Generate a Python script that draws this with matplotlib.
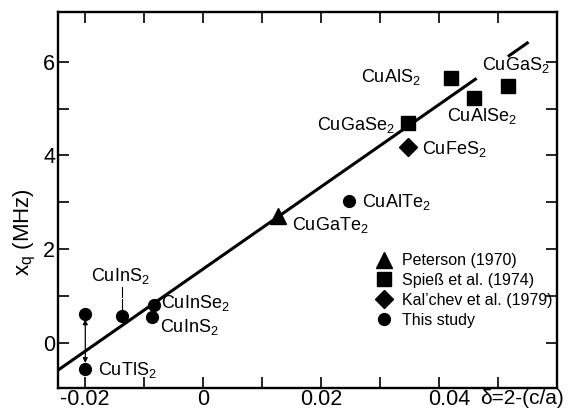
import matplotlib
matplotlib.use("Agg")
import matplotlib.pyplot as plt
import matplotlib.transforms as mtransforms
import numpy as np

# quadrupole coupling vs tetragonal distortion of Cu chalcopyrites
peterson_x = [0.0127]
peterson_y = [2.71]
spiess_x = [0.0347, 0.0420, 0.0460, 0.0517]
spiess_y = [4.70, 5.66, 5.22, 5.48]
kalchev_x = [0.0348]
kalchev_y = [4.17]
study_x = [-0.0199, -0.0199, -0.0136, -0.0083, -0.0086, 0.0247]
study_y = [0.62, -0.55, 0.57, 0.81, 0.55, 3.02]

# straight-line fit, drawn in two pieces (gap for the CuGaS2 label)
fit_intercept, fit_slope = 1.57, 87.8
fit_pieces = [(-0.0245, 0.0464), (0.0517, 0.0552)]

# compound labels: text, x, y, alignment
labels = [
    ("CuInS", -0.0189, 1.42, "left"),
    ("CuInSe", -0.0071, 0.84, "left"),
    ("CuInS", -0.0073, 0.33, "left"),
    ("CuTlS", -0.0178, -0.57, "left"),
    ("CuGaTe", 0.0151, 2.51, "left"),
    ("CuAlTe", 0.0270, 3.01, "left"),
    ("CuFeS", 0.0372, 4.13, "left"),
    ("CuGaSe", 0.0325, 4.64, "right"),
    ("CuAlS", 0.0369, 5.67, "right"),
    ("CuAlSe", 0.0414, 4.84, "left"),
    ("CuGaS", 0.0473, 5.92, "left"),
]

x_ticks = [-0.02, -0.01, 0.0, 0.01, 0.02, 0.03, 0.04, 0.05]
x_ticklabels = ["-0.02", "", "0", "", "0.02", "", "", ""]
y_ticks = [0, 1, 2, 3, 4, 5, 6]
y_ticklabels = ["0", "", "2", "", "4", "", "6"]

plt.rcParams["font.family"] = ["Liberation Sans", "DejaVu Sans"]
plt.rcParams["mathtext.fontset"] = "custom"
plt.rcParams["mathtext.rm"] = "Liberation Sans"
plt.rcParams["mathtext.it"] = "Liberation Sans"

fig = plt.figure(figsize=(5.7, 4.13), dpi=100)
ax = fig.add_axes([0.102, 0.061, 0.875, 0.910])

for x0, x1 in fit_pieces:
    xs = np.array([x0, x1])
    ax.plot(xs, fit_intercept + fit_slope * xs, color="k", lw=2.2,
            solid_capstyle="butt", zorder=2)

ax.plot(peterson_x, peterson_y, "^", color="k", ms=12, ls="none",
        label="Peterson (1970)", zorder=3)
ax.plot(spiess_x, spiess_y, "s", color="k", ms=10, ls="none",
        label="Spieß et al. (1974)", zorder=3)
ax.plot(kalchev_x, kalchev_y, "D", color="k", ms=9, ls="none",
        label="Kal’chev et al. (1979)", zorder=3)
ax.plot(study_x, study_y, "o", color="k", ms=8.5, ls="none",
        label="This study", zorder=3)

# CuTlS2: two values joined by a double arrow
ax.annotate("", xy=(study_x[1], study_y[1] + 0.12), xytext=(study_x[0], study_y[0] - 0.12),
            arrowprops=dict(arrowstyle="<|-|>", color="k", lw=0.9,
                            mutation_scale=7, shrinkA=0, shrinkB=0))
# leader from the upper CuInS2 label down to its point
ax.plot([study_x[2], study_x[2]], [1.20, 0.98], color="k", lw=0.8)
ax.plot([study_x[2], study_x[2]], [0.93, 0.72], color="k", lw=0.8)

for name, lx, ly, ha in labels:
    ax.text(lx, ly, name + r"$_\mathrm{2}$", ha=ha, va="center", fontsize=13)

ax.legend(loc="upper left", bbox_to_anchor=(0.625, 0.375), frameon=False,
          fontsize=11.5, handletextpad=0.6, labelspacing=0.3,
          handlelength=1.0, borderaxespad=0)

ax.set_xlim(-0.0245, 0.060)
ax.set_ylim(-0.96, 7.06)
ax.set_xticks(x_ticks)
ax.set_xticklabels(x_ticklabels)
ax.set_yticks(y_ticks)
ax.set_yticklabels(y_ticklabels)
ax.tick_params(direction="in", length=8, width=1.2, top=True, right=True,
               labelsize=15.5)
ax.tick_params(axis="x", pad=1)
ax.tick_params(axis="y", pad=2)
for sp in ax.spines.values():
    sp.set_linewidth(1.7)

ax.set_ylabel(r"x$_\mathrm{q}$ (MHz)", fontsize=16)
ax.yaxis.set_label_coords(-0.04, 0.414)

# last x label runs on into the axis title
bt = mtransforms.blended_transform_factory(ax.transData, ax.transAxes)
ax.text(0.0418, -0.004, "0.04", transform=bt, ha="center", va="top",
        fontsize=15.5)
ax.text(0.846, -0.004, "δ=2-(c/a)", transform=ax.transAxes, ha="left", va="top",
        fontsize=15)

fig.savefig("out.png", dpi=100)
